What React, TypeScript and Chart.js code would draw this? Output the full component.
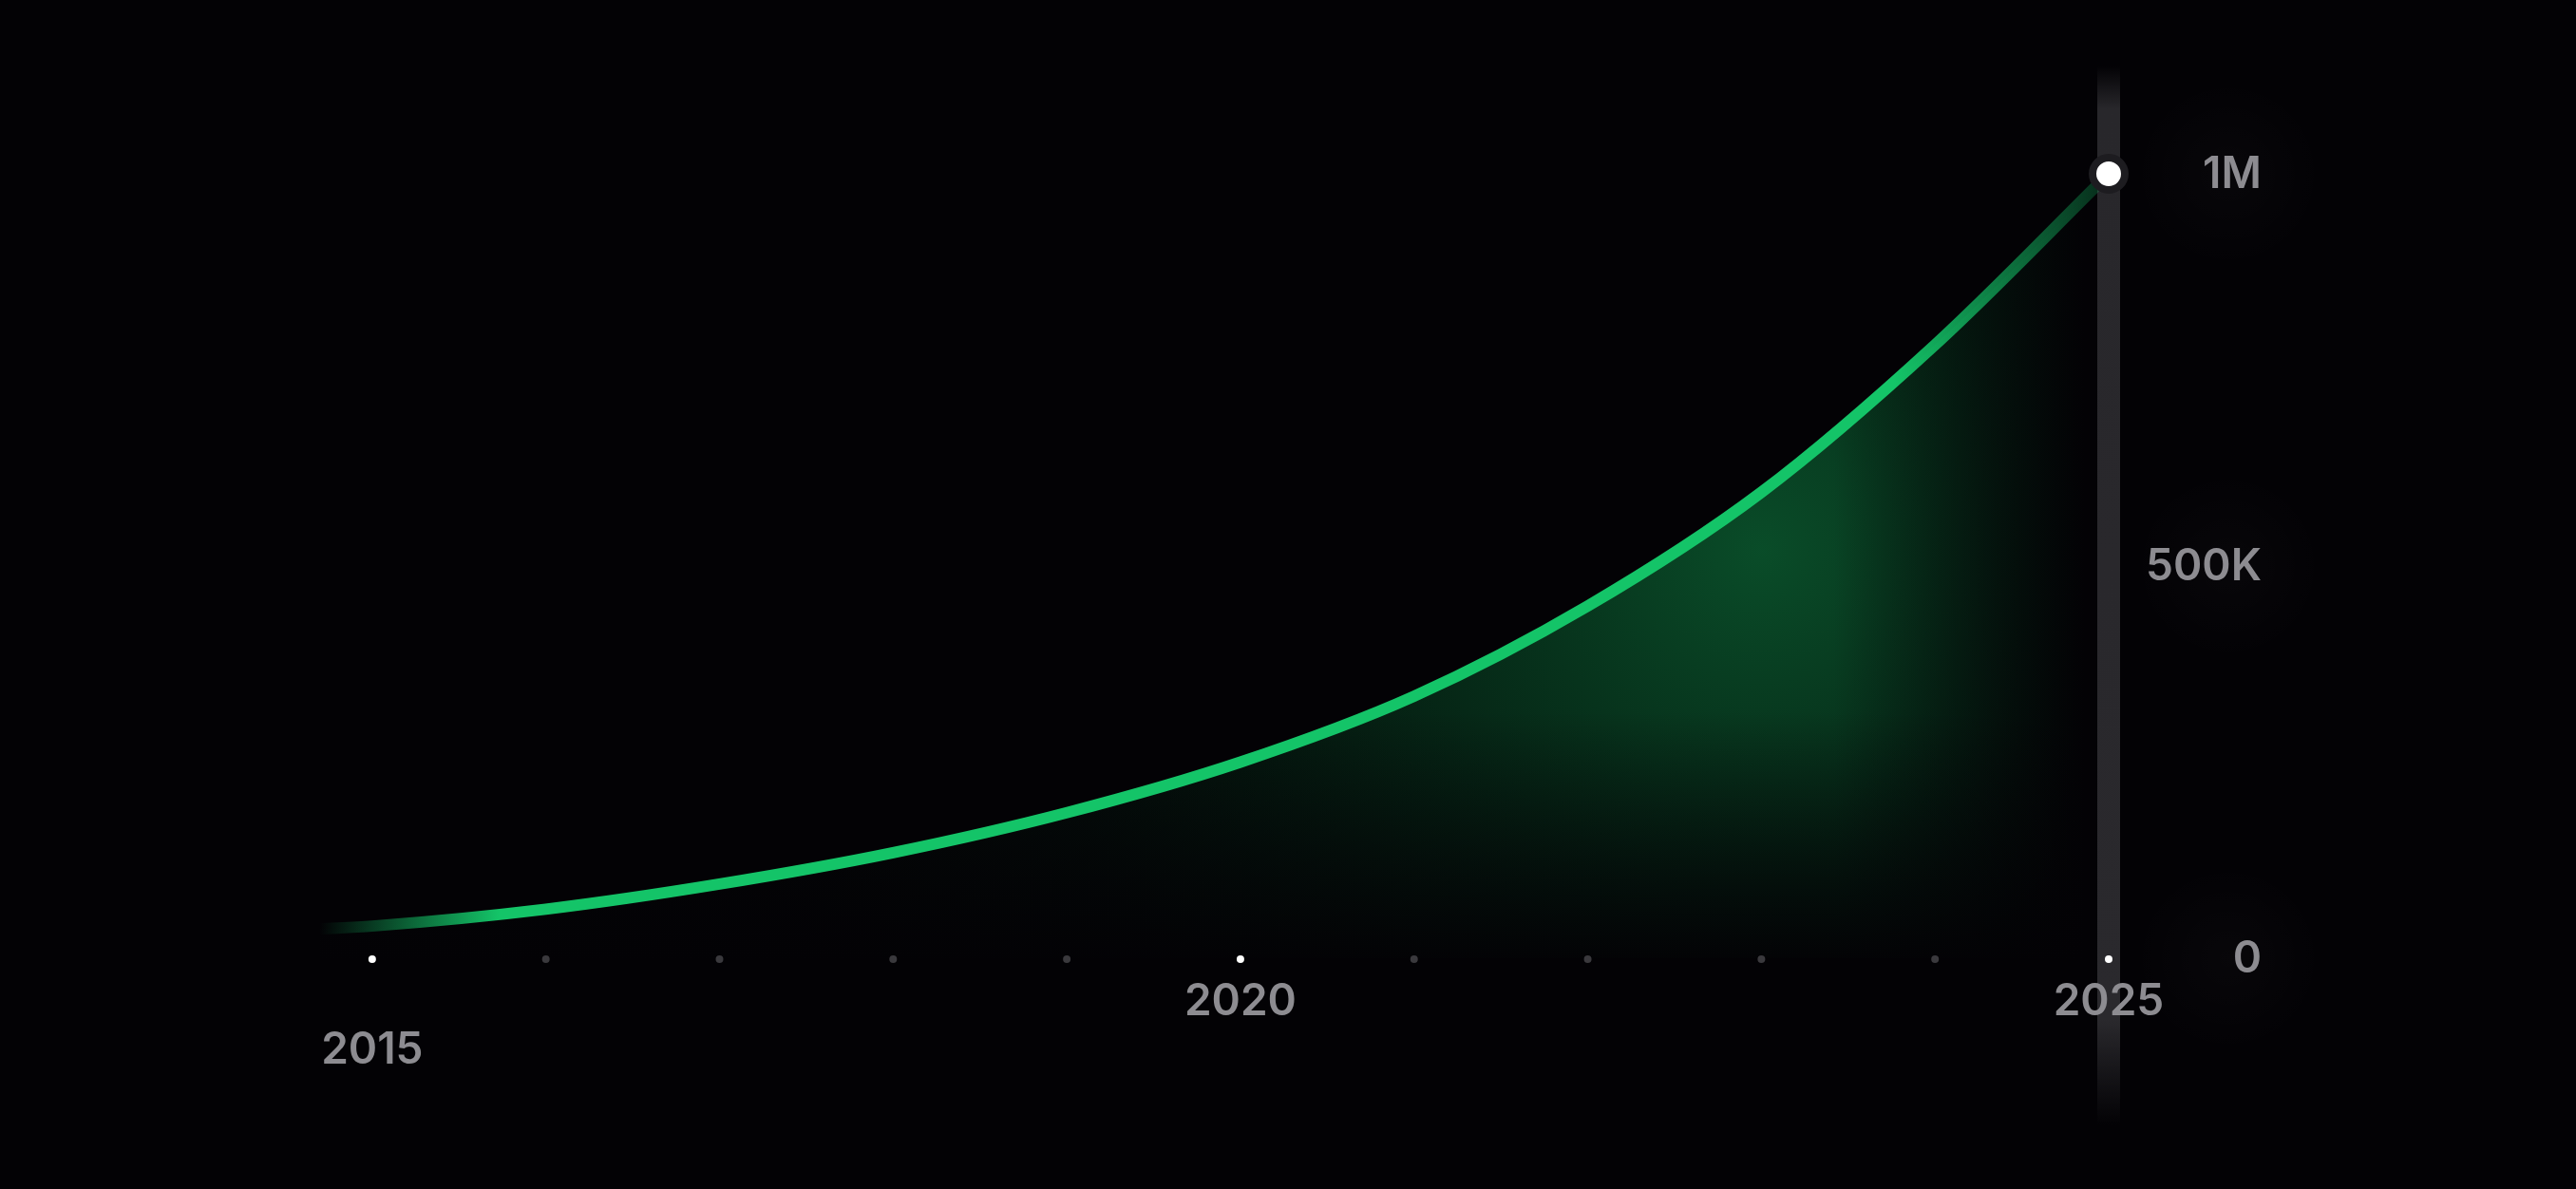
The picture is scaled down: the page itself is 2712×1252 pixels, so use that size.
import React, { useEffect, useRef } from 'react';
import { Chart, registerables } from 'chart.js';

Chart.register(...registerables);

// Data
const years = [2014.7, 2015, 2016, 2017, 2018, 2019, 2020, 2021, 2022, 2023, 2024, 2025];
const users = [37500, 41000, 62500, 94500, 134500, 185500, 250000, 334000, 449000, 594000, 782000, 1000000];
const tickYears = [2015, 2016, 2017, 2018, 2019, 2020, 2021, 2022, 2023, 2024, 2025];
const labelYears = [2015, 2020, 2025];
const yTicks = [0, 500000, 1000000];
const yTickLabels = ['0', '500K', '1M'];

const BG = 'rgb(3,2,5)';
const GREEN = '20,196,104';
const LABEL_FONT = '600 46px Inter, "Noto Sans", sans-serif';
const LABEL_COLOR = '#8d8c91';

const decorPlugin = {
  id: 'decor',
  afterDatasetDraw(chart: any, args: any) {
    // runs after the fill layer, before the line layer
    if (args.index !== 1) return;
    const { ctx, chartArea, scales } = chart;
    const x = scales.x;
    const y = scales.y;
    const endX = x.getPixelForValue(years[years.length - 1]);
    const base = y.getPixelForValue(0);

    ctx.save();
    // dark the fill toward the right edge and the baseline
    const h = ctx.createLinearGradient(endX - 290, 0, endX - 25, 0);
    h.addColorStop(0, 'rgba(3,2,5,0)');
    h.addColorStop(1, 'rgba(3,2,5,1)');
    ctx.fillStyle = h;
    ctx.fillRect(endX - 290, chartArea.top - 10, 300, base - chartArea.top + 20);

    const v = ctx.createLinearGradient(0, base - 260, 0, base);
    v.addColorStop(0, 'rgba(3,2,5,0)');
    v.addColorStop(1, 'rgba(3,2,5,0.95)');
    ctx.fillStyle = v;
    ctx.fillRect(chartArea.left - 10, base - 260, endX - chartArea.left + 20, 262);

    // vertical marker bar at the last year
    const top = 70;
    const bottom = 1185;
    const g = ctx.createLinearGradient(0, top, 0, bottom);
    g.addColorStop(0, 'rgba(40,39,43,0)');
    g.addColorStop(0.04, 'rgba(40,39,43,1)');
    g.addColorStop(0.9, 'rgba(42,41,45,1)');
    g.addColorStop(1, 'rgba(40,39,43,0)');
    ctx.fillStyle = g;
    ctx.fillRect(endX - 12, top, 24, bottom - top);
    ctx.restore();
  },
  afterDraw(chart: any) {
    const { ctx, scales } = chart;
    const x = scales.x;
    const y = scales.y;
    const base = y.getPixelForValue(0);
    const endX = x.getPixelForValue(years[years.length - 1]);

    ctx.save();
    // tick dots on the baseline
    tickYears.forEach((yr) => {
      const px = x.getPixelForValue(yr);
      ctx.beginPath();
      ctx.arc(px, base + 1, 4, 0, Math.PI * 2);
      ctx.fillStyle = labelYears.includes(yr) ? '#ffffff' : '#3a393d';
      ctx.fill();
    });

    ctx.font = LABEL_FONT;
    ctx.fillStyle = LABEL_COLOR;
    ctx.textBaseline = 'middle';
    ctx.textAlign = 'center';
    labelYears.forEach((yr, i) => {
      const px = x.getPixelForValue(yr);
      const drop = i === 0 ? 97 : 46;
      ctx.fillText(String(yr), px, base + drop);
    });

    // y labels, right aligned beside the bar
    const rightEdge = endX + 161;
    yTicks.forEach((v, i) => {
      const py = y.getPixelForValue(v);
      const glow = ctx.createRadialGradient(rightEdge - 35, py, 0, rightEdge - 35, py, 100);
      glow.addColorStop(0, 'rgba(255,255,255,0.02)');
      glow.addColorStop(1, 'rgba(255,255,255,0)');
      ctx.fillStyle = glow;
      ctx.fillRect(rightEdge - 140, py - 100, 210, 200);
      ctx.fillStyle = LABEL_COLOR;
      ctx.textAlign = 'right';
      ctx.fillText(yTickLabels[i], rightEdge, py + 1);
    });
    ctx.restore();
  },
};

const bgPlugin = {
  id: 'bg',
  beforeDraw(chart: any) {
    const { ctx, width, height } = chart;
    ctx.save();
    ctx.fillStyle = BG;
    ctx.fillRect(0, 0, width, height);
    ctx.restore();
  },
};

const App: React.FC = () => {
  const chartRef = useRef<HTMLCanvasElement>(null);
  const chartInstance = useRef<Chart | null>(null);

  useEffect(() => {
    document.body.style.margin = '0';
    document.body.style.background = BG;
    if (!chartRef.current) return;
    if (chartInstance.current) chartInstance.current.destroy();
    const ctx = chartRef.current.getContext('2d');
    if (!ctx) return;

    const points = years.map((yr, i) => ({ x: yr, y: users[i] }));

    const lineColor = (c: any) => {
      const { chart } = c;
      const area = chart.chartArea;
      if (!area) return `rgb(${GREEN})`;
      const g = chart.ctx.createLinearGradient(area.left, 0, area.right, 0);
      g.addColorStop(0, `rgba(${GREEN},0)`);
      g.addColorStop(0.1, `rgba(${GREEN},1)`);
      g.addColorStop(0.88, `rgba(${GREEN},1)`);
      g.addColorStop(1, `rgba(${GREEN},0.2)`);
      return g;
    };

    const fillColor = (c: any) => {
      const { chart } = c;
      const area = chart.chartArea;
      if (!area) return `rgba(${GREEN},0.2)`;
      const cx = chart.scales.x.getPixelForValue(2023);
      const cy = chart.scales.y.getPixelForValue(520000);
      const g = chart.ctx.createRadialGradient(cx, cy, 0, cx, cy, 1100);
      g.addColorStop(0, 'rgba(16,150,76,0.5)');
      g.addColorStop(0.35, 'rgba(12,120,60,0.3)');
      g.addColorStop(0.7, 'rgba(10,90,45,0.12)');
      g.addColorStop(1, 'rgba(10,80,40,0.04)');
      return g;
    };

    chartInstance.current = new Chart(ctx, {
      type: 'line',
      data: {
        datasets: [
          {
            label: 'line',
            data: points,
            borderColor: lineColor,
            borderWidth: 12,
            borderCapStyle: 'round',
            fill: false,
            cubicInterpolationMode: 'monotone',
            pointRadius: (c: any) => (c.dataIndex === users.length - 1 ? 17 : 0),
            pointBackgroundColor: '#ffffff',
            pointBorderColor: '#1d1c20',
            pointBorderWidth: 8,
            clip: false,
          },
          {
            label: 'area',
            data: points,
            borderWidth: 0,
            borderColor: 'rgba(0,0,0,0)',
            backgroundColor: fillColor,
            fill: 'origin',
            cubicInterpolationMode: 'monotone',
            pointRadius: 0,
            clip: false,
          },
        ],
      },
      options: {
        animation: false,
        responsive: true,
        maintainAspectRatio: false,
        events: [],
        layout: { padding: { left: 337, right: 492, top: 183, bottom: 243 } },
        scales: {
          x: { type: 'linear', display: false, min: years[0], max: years[years.length - 1] },
          y: { type: 'linear', display: false, min: yTicks[0], max: yTicks[yTicks.length - 1] },
        },
        plugins: {
          legend: { display: false },
          tooltip: { enabled: false },
        },
      },
      plugins: [bgPlugin, decorPlugin],
    } as any);

    return () => {
      if (chartInstance.current) {
        chartInstance.current.destroy();
        chartInstance.current = null;
      }
    };
  }, []);

  return (
    <div style={{ position: 'fixed', left: 0, top: 0, width: '100vw', height: '100vh', background: BG }}>
      <canvas ref={chartRef} />
    </div>
  );
};

export default App;
